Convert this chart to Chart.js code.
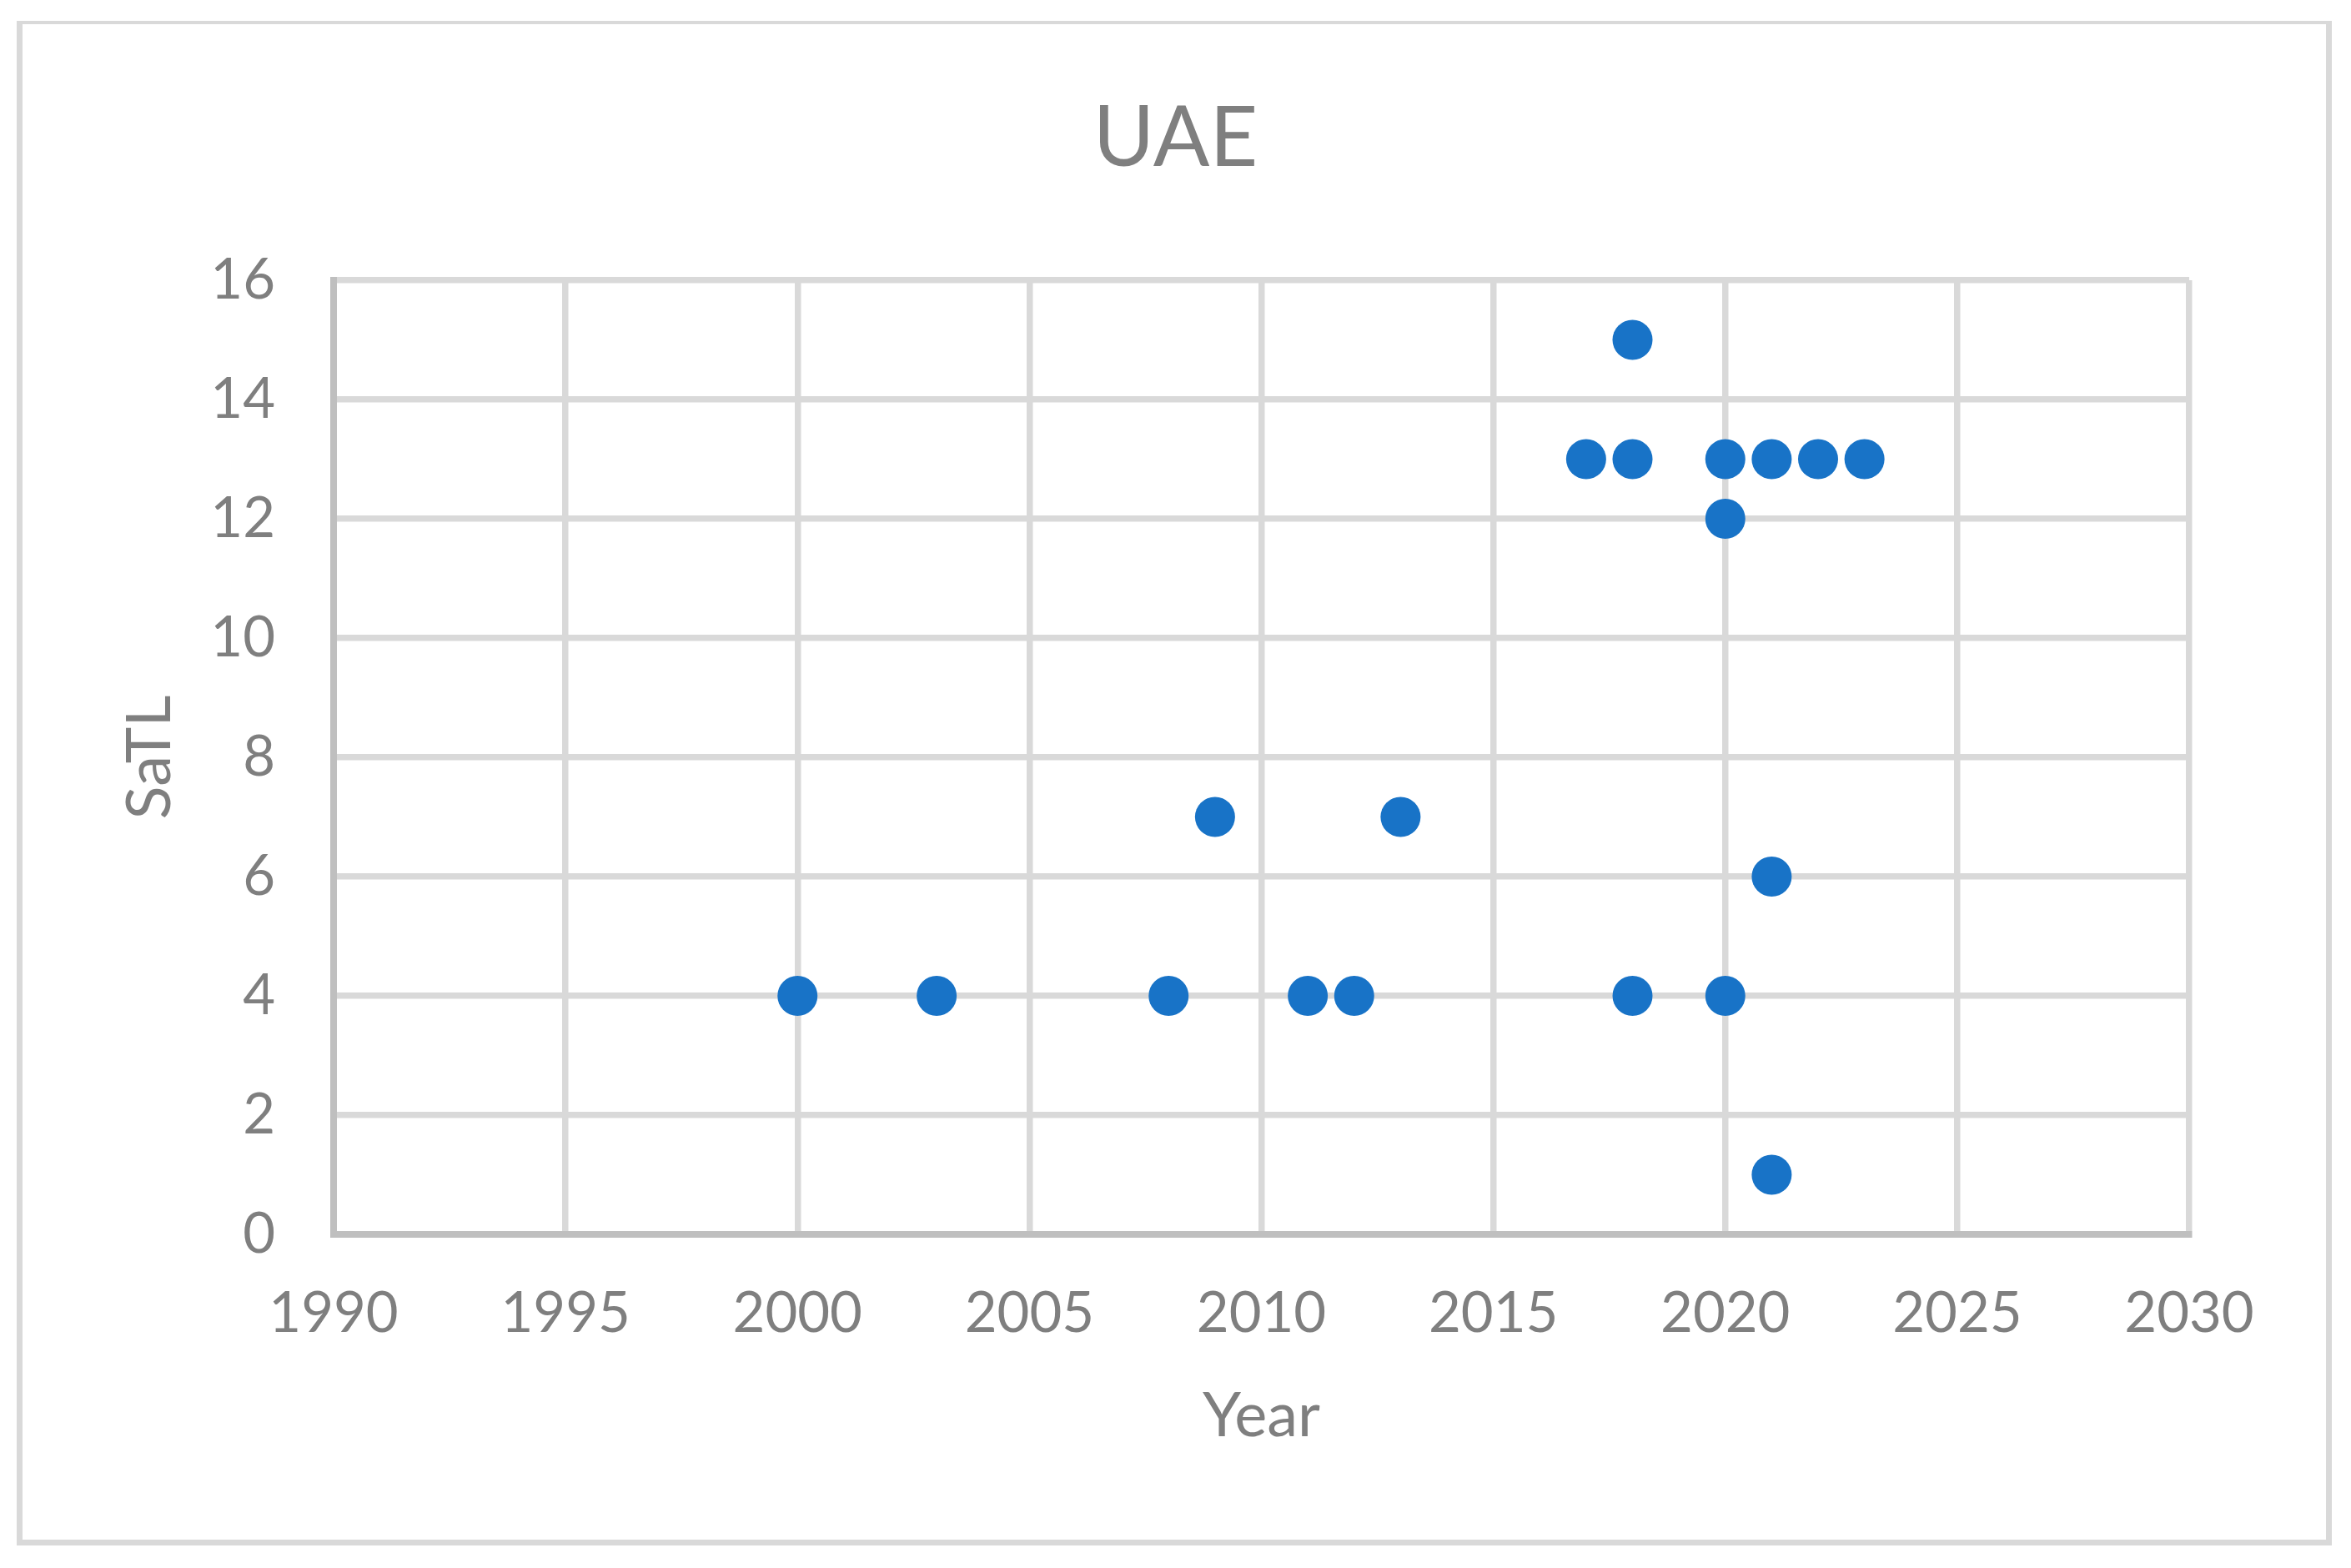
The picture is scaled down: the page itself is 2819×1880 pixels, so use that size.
<!DOCTYPE html>
<html>
<head>
<meta charset="utf-8">
<script src="https://cdn.jsdelivr.net/npm/chart.js@4/dist/chart.umd.min.js"></script>
<style>
  html, body { margin: 0; padding: 0; background: #ffffff; }
  #frame { position: absolute; left: 20px; top: 25px; width: 2762px; height: 1817px;
           border-style: solid; border-color: #d9d9d9; border-width: 4px 7px 7px 7px; }
  #c { position: absolute; left: 0; top: 0; }
</style>
</head>
<body>
<div id="frame"></div>
<canvas id="c" width="2819" height="1880"></canvas>
<script>
// ---- data ----
const chartTitle = "UAE";
const xAxisTitle = "Year";
const yAxisTitle = "SaTL";
const years = [2000, 2003, 2008, 2009, 2011, 2012, 2013, 2017, 2018, 2018, 2018, 2020, 2020, 2020, 2021, 2021, 2021, 2022, 2023];
const satl  = [4,    4,    4,    7,    4,    4,    7,    13,   15,   13,   4,    13,   12,   4,    13,   6,    1,    13,   13];
const xTicks = [1990, 1995, 2000, 2005, 2010, 2015, 2020, 2025, 2030];
const yTicks = [0, 2, 4, 6, 8, 10, 12, 14, 16];

const points = years.map((x, i) => ({ x: x, y: satl[i] }));
const textColor = '#7f7f7f';
const fontFamily = 'Lato, "Open Sans", sans-serif';

new Chart(document.getElementById('c'), {
  type: 'scatter',
  data: {
    datasets: [{
      label: yAxisTitle,
      data: points,
      pointRadius: 24,
      pointHoverRadius: 24,
      pointBackgroundColor: '#1873c7',
      pointBorderWidth: 0,
      borderColor: '#1873c7',
      showLine: false
    }]
  },
  options: {
    responsive: false,
    animation: false,
    events: [],
    layout: { padding: { left: 0, right: 0, top: 0, bottom: 0 } },
    plugins: {
      legend: { display: false },
      tooltip: { enabled: false },
      title: {
        display: true,
        text: chartTitle,
        color: textColor,
        font: { family: fontFamily, size: 100, weight: 'normal' },
        padding: { top: 107, bottom: 109 }
      }
    },
    scales: {
      x: {
        type: 'linear',
        min: xTicks[0],
        max: xTicks[xTicks.length - 1],
        afterBuildTicks: (s) => { s.ticks = xTicks.map(v => ({ value: v })); },
        afterFit: (s) => { s.height = 400; },
        ticks: {
          color: textColor,
          font: { family: fontFamily, size: 67 },
          padding: 55,
          maxRotation: 0,
          autoSkip: false,
          callback: (v) => String(v)
        },
        grid: {
          drawTicks: false,
          lineWidth: 7.5,
          color: (ctx) => (ctx.tick && ctx.tick.value === xTicks[0]) ? '#bfbfbf' : '#d9d9d9'
        },
        border: { display: true, color: '#bfbfbf', width: 8 },
        title: {
          display: true,
          text: xAxisTitle,
          color: textColor,
          font: { family: fontFamily, size: 74 },
          padding: { top: 0, bottom: 137 }
        }
      },
      y: {
        type: 'linear',
        min: yTicks[0],
        max: yTicks[yTicks.length - 1],
        afterBuildTicks: (s) => { s.ticks = yTicks.map(v => ({ value: v })); },
        afterFit: (s) => { s.width = 400; },
        ticks: {
          color: textColor,
          font: { family: fontFamily, size: 67 },
          padding: 70,
          autoSkip: false,
          callback: (v) => String(v)
        },
        grid: {
          drawTicks: false,
          lineWidth: 7.5,
          color: (ctx) => (ctx.tick && ctx.tick.value === yTicks[0]) ? '#bfbfbf' : '#d9d9d9'
        },
        border: { display: true, color: '#bfbfbf', width: 8 },
        title: {
          display: true,
          text: yAxisTitle,
          color: textColor,
          font: { family: fontFamily, size: 74 },
          padding: { top: 136, bottom: 0 }
        }
      },
      spacer: {
        type: 'linear',
        position: 'right',
        display: true,
        afterFit: (s) => { s.width = 194; },
        ticks: { display: false },
        grid: { display: false, drawTicks: false },
        border: { display: false },
        title: { display: false }
      }
    }
  }
});
</script>
</body>
</html>
